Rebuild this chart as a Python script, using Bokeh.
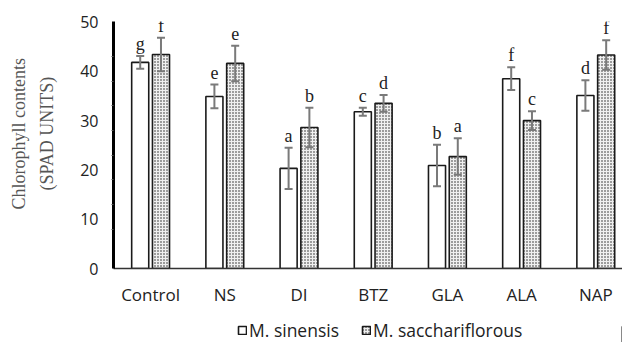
from bokeh.plotting import figure
from bokeh.layouts import column
from bokeh.models import (ColumnDataSource, Range1d, FixedTicker, Whisker, TeeHead,
                          Legend, LegendItem, Title)
from bokeh.core.properties import value
from bokeh.embed import file_html
from bokeh.resources import INLINE

categories = ["Control", "NS", "DI", "BTZ", "GLA", "ALA", "NAP"]
sinensis = [41.8, 34.9, 20.3, 31.8, 20.9, 38.5, 35.1]
sinensis_err = [1.3, 2.4, 4.2, 0.8, 4.2, 2.3, 3.1]
sinensis_letters = ["g", "e", "a", "c", "b", "f", "d"]
saccha = [43.4, 41.6, 28.6, 33.5, 22.7, 30.0, 43.3]
saccha_err = [3.4, 3.6, 4.0, 1.7, 3.7, 1.9, 3.0]
saccha_letters = ["f", "e", "b", "d", "a", "c", "f"]
y_ticks = [0, 10, 20, 30, 40, 50]
y_title = ["Chlorophyll contents", "(SPAD UNITS)"]
series_names = ["M. sinensis", "M. sacchariflorous"]

centers = [i + 0.5 for i in range(len(categories))]
off = 0.14
bw = 0.23

style1 = dict(fill_color="white", line_color="#1a1a1a", line_width=1.6)
style2 = dict(fill_color="#f0f0f0", line_color="#1a1a1a", line_width=1.6,
              hatch_pattern="dot", hatch_color="#1e1e1e", hatch_scale=3,
              hatch_weight=1.7)

def src(vals, errs, letters, shift):
    return ColumnDataSource(dict(
        x=[c + shift for c in centers], top=vals,
        up=[v + e for v, e in zip(vals, errs)],
        lo=[v - e for v, e in zip(vals, errs)],
        letter=letters))

s1 = src(sinensis, sinensis_err, sinensis_letters, -off)
s2 = src(saccha, saccha_err, saccha_letters, off)

p = figure(frame_width=509, frame_height=247, output_backend="svg", toolbar_location=None,
           x_range=Range1d(0, 6.86), y_range=Range1d(0, 50.1),
           min_border_left=113, min_border_right=0, min_border_top=21,
           min_border_bottom=42)
p.outline_line_color = None
p.xgrid.visible = False
p.ygrid.visible = False
p.background_fill_color = "white"

p.vbar(x="x", top="top", width=bw, bottom=0, source=s1, **style1)
p.vbar(x="x", top="top", width=bw, bottom=0, source=s2, **style2)

for s in (s1, s2):
    w = Whisker(base="x", upper="up", lower="lo", source=s, level="overlay",
                line_color="#7a7a7a", line_width=2,
                upper_head=TeeHead(size=8, line_color="#7a7a7a", line_width=2),
                lower_head=TeeHead(size=8, line_color="#7a7a7a", line_width=2))
    p.add_layout(w)
    p.text(x="x", y="up", text="letter", source=s, text_align="center",
           text_baseline="alphabetic", y_offset=-12,
           text_font=value("Liberation Serif"), text_font_size="18px",
           text_color="#222222")

p.xaxis.ticker = FixedTicker(ticks=centers)
p.xaxis.major_label_overrides = {c: n for c, n in zip(centers, categories)}
p.xaxis.major_tick_line_color = None
p.xaxis.minor_tick_line_color = None
p.xaxis.axis_line_color = "#333333"
p.xaxis.axis_line_width = 1.5
p.xaxis.major_label_text_font = "Open Sans"
p.xaxis.major_label_text_font_size = "17px"
p.xaxis.major_label_text_color = "#222222"
p.xaxis.major_label_standoff = 8

p.yaxis.ticker = FixedTicker(ticks=y_ticks, minor_ticks=[8, 13, 18, 23, 28, 33, 38, 43])
p.yaxis.major_tick_line_color = None
p.yaxis.minor_tick_out = 2
p.yaxis.minor_tick_in = 0
p.yaxis.minor_tick_line_color = "#555555"
p.yaxis.axis_line_color = "black"
p.yaxis.axis_line_width = 3
p.yaxis.major_label_text_font = "Open Sans"
p.yaxis.major_label_text_font_size = "16px"
p.yaxis.major_label_text_color = "#222222"
p.yaxis.major_label_standoff = 9
p.yaxis.axis_label = " "
p.yaxis.axis_label_text_font_size = "1px"
p.yaxis.axis_label_standoff = 11

# y-axis title as two left-side titles (inner line first)
for txt, offs, stand in zip(reversed(y_title), [78, 59], [12, 0]):
    p.add_layout(Title(text=txt, align="left", offset=offs, standoff=stand,
                       text_font="Liberation Serif", text_font_style="normal",
                       text_font_size="18px", text_color="#555555"), "left")

# legend strip below the chart (dummy bars lie far outside its visible range)
lg = figure(width=622, height=32, output_backend="svg", toolbar_location=None,
            x_range=Range1d(0, 1), y_range=Range1d(0, 1),
            min_border=0, outline_line_color=None)
lg.axis.visible = False
lg.grid.visible = False
rr1 = lg.vbar(x=[50], top=[0.5], width=0.1, **style1)
rr2 = lg.vbar(x=[50], top=[0.5], width=0.1, **style2)
legend = Legend(items=[LegendItem(label=series_names[0], renderers=[rr1]),
                       LegendItem(label=series_names[1], renderers=[rr2])],
                orientation="horizontal", location=(124, 0),
                border_line_color=None, background_fill_alpha=0,
                label_text_font="Open Sans", label_text_font_size="17.5px",
                label_text_color="#222222", glyph_width=10, glyph_height=10,
                label_standoff=2, spacing=22, padding=0, margin=0)
lg.add_layout(legend, "center")

layout = column(p, lg, spacing=0)
open("out.html", "w").write(file_html(layout, INLINE))
